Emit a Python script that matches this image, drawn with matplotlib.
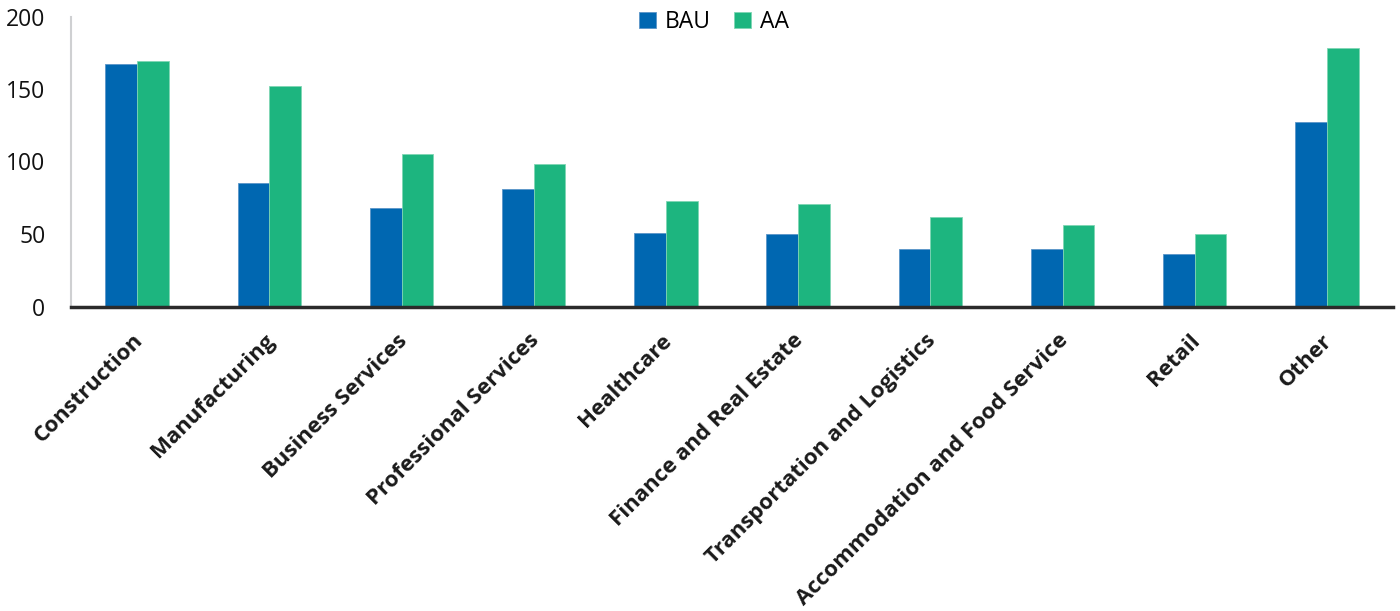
import matplotlib
matplotlib.use("Agg")
import matplotlib.pyplot as plt
import matplotlib.transforms as mtransforms
import numpy as np

categories = ["Construction", "Manufacturing", "Business Services", "Professional Services",
              "Healthcare", "Finance and Real Estate", "Transportation and Logistics",
              "Accommodation and Food Service", "Retail", "Other"]
bau = [167, 85, 68, 81, 51, 50, 40, 40, 36, 127]
aa = [169, 152, 105, 98.5, 72.5, 71, 61.5, 56.5, 50, 178]
yticks = [0, 50, 100, 150, 200]

BAU_COLOR = "#0067B1"
AA_COLOR = "#1DB57F"

fig = plt.figure(figsize=(14, 6.11), dpi=100)
ax = fig.add_axes([71/1400, 1 - 306.5/611, 1322/1400, 290/611])

x = np.arange(len(categories))
w = 0.24
ax.bar(x - w/2, bau, width=w, color=BAU_COLOR, edgecolor="#5a95c8", linewidth=0.6, label="BAU")
ax.bar(x + w/2, aa, width=w, color=AA_COLOR, edgecolor="#7fd6b4", linewidth=0.6, label="AA")

ax.set_xlim(-0.5, len(categories) - 0.5)
ax.set_ylim(0, 200)
ax.set_yticks(yticks)
ax.set_yticklabels([str(v) for v in yticks], fontsize=16.5, family="Open Sans", color="#111111")
ax.tick_params(axis="y", length=0, pad=18.5)
ax.tick_params(axis="x", length=0, pad=17)
ax.set_xticks(x)
ax.set_xticklabels(categories, rotation=45, ha="right", rotation_mode="anchor",
                   fontsize=16, fontweight="bold", family="Open Sans", color="#1a1a1a")
offset = mtransforms.ScaledTranslation(-5/100, 0, fig.dpi_scale_trans)
for lab in ax.get_xticklabels():
    lab.set_transform(lab.get_transform() + offset)

for s in ["top", "right"]:
    ax.spines[s].set_visible(False)
ax.spines["left"].set_color("#cfd0d2")
ax.spines["left"].set_linewidth(1.5)
ax.spines["bottom"].set_color("#2b2b2b")
ax.spines["bottom"].set_linewidth(2.5)

leg = fig.legend(loc="center", bbox_to_anchor=(714/1400, 1 - 22/611), ncol=2, frameon=False,
                 prop={"family": "Open Sans", "size": 16.5}, handlelength=0.75, handleheight=0.75,
                 handletextpad=0.4, columnspacing=1.0)

fig.savefig("out.png", dpi=100)
